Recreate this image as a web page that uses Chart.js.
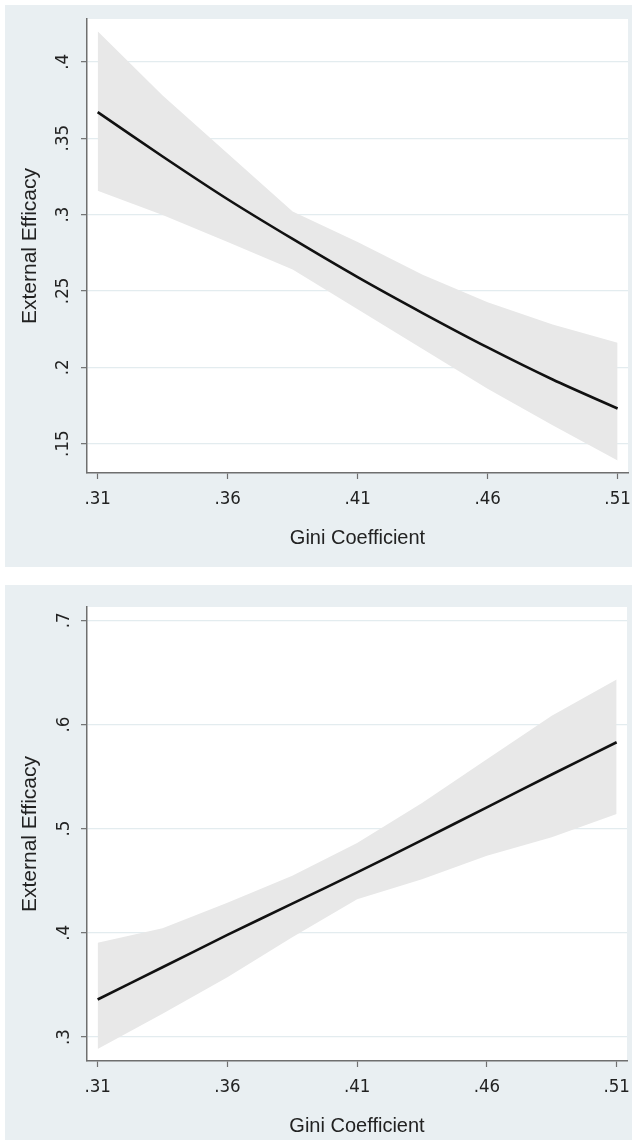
<!DOCTYPE html>
<html>
<head>
<meta charset="utf-8">
<script src="https://cdn.jsdelivr.net/npm/chart.js@4/dist/chart.umd.min.js"></script>
<style>
  html, body { margin: 0; padding: 0; background: #fff; }
  body { width: 636px; height: 1140px; position: relative; overflow: hidden; }
  .panel { position: absolute; left: 5px; width: 627px; background: #e9eff2; }
  #panelTop { top: 5px; height: 562px; }
  #panelBottom { top: 585px; height: 555px; }
</style>
</head>
<body>
<div class="panel" id="panelTop"><canvas id="giniTop"></canvas></div>
<div class="panel" id="panelBottom"><canvas id="giniBottom"></canvas></div>
<script>
// DATA
const giniX = [0.31, 0.335, 0.36, 0.385, 0.41, 0.435, 0.46, 0.485, 0.51];
const xTicks = [0.31, 0.36, 0.41, 0.46, 0.51];
const xTickLabels = ['.31', '.36', '.41', '.46', '.51'];

// top panel
const fitTop = [0.367, 0.338, 0.310, 0.284, 0.259, 0.2355, 0.213, 0.192, 0.173];
const upperTop = [0.420, 0.378, 0.340, 0.302, 0.282, 0.2605, 0.2425, 0.228, 0.216];
const lowerTop = [0.3155, 0.2997, 0.282, 0.264, 0.238, 0.212, 0.186, 0.162, 0.139];
const yTicksTop = [0.15, 0.2, 0.25, 0.3, 0.35, 0.4];
const yTickLabelsTop = ['.15', '.2', '.25', '.3', '.35', '.4'];

// bottom panel
const fitBottom = [0.336, 0.367, 0.398, 0.428, 0.458, 0.489, 0.5205, 0.552, 0.583];
const upperBottom = [0.3904, 0.4045, 0.4288, 0.4549, 0.4863, 0.5247, 0.5666, 0.6083, 0.6432];
const lowerBottom = [0.2885, 0.3224, 0.3575, 0.3959, 0.4323, 0.4515, 0.474, 0.4917, 0.5142];
const yTicksBottom = [0.3, 0.4, 0.5, 0.6, 0.7];
const yTickLabelsBottom = ['.3', '.4', '.5', '.6', '.7'];

const toPoints = (ys) => giniX.map((x, i) => ({ x: x, y: ys[i] }));

const tickFont = { family: "'Liberation Sans Narrow', 'Arial Narrow', 'DejaVu Sans Condensed', sans-serif", size: 18.5 };
const titleFont = { family: "'Liberation Sans Narrow', 'Arial Narrow', 'Liberation Sans', sans-serif", size: 20 };
const yTitleFont = { family: "'Liberation Sans', Arial, sans-serif", size: 21 };

// white plot region
const plotBackground = {
  id: 'plotBackground',
  beforeDraw(chart) {
    const { ctx, chartArea } = chart;
    ctx.save();
    ctx.fillStyle = '#ffffff';
    ctx.fillRect(chartArea.left, chartArea.top, chartArea.right - chartArea.left, chartArea.bottom - chartArea.top);
    ctx.restore();
  }
};

const buildChart = (canvasId, fit, upper, lower, yMin, yMax, yTicks, yLabels, padTop, padRight, xHeight, yPad, xTitlePad) => {
  const ctx = document.getElementById(canvasId).getContext('2d');
  return new Chart(ctx, {
    type: 'line',
    data: {
      datasets: [{
        label: 'upper',
        data: toPoints(upper),
        borderWidth: 0,
        pointRadius: 0,
        backgroundColor: '#e8e8e8',
        fill: '+1',
        tension: 0,
        order: 2
      }, {
        label: 'lower',
        data: toPoints(lower),
        borderWidth: 0,
        pointRadius: 0,
        fill: false,
        tension: 0,
        order: 2
      }, {
        label: 'External Efficacy',
        data: toPoints(fit),
        borderColor: '#111111',
        borderWidth: 2.6,
        pointRadius: 0,
        fill: false,
        tension: 0.3,
        order: 0
      }]
    },
    options: {
      responsive: true,
      maintainAspectRatio: false,
      animation: false,
      layout: {
        padding: { top: padTop, right: padRight, left: 0, bottom: 0 }
      },
      plugins: {
        legend: { display: false },
        tooltip: { enabled: false }
      },
      scales: {
        x: {
          type: 'linear',
          min: 0.3059,
          max: 0.514,
          afterBuildTicks: (scale) => { scale.ticks = xTicks.map(v => ({ value: v })); },
          afterFit: (scale) => {
            scale.height = xHeight;
            scale.paddingLeft = 0;
            scale.paddingRight = 0;
          },
          border: { color: '#6f6f6f', width: 1.5 },
          grid: {
            drawOnChartArea: false,
            drawTicks: true,
            tickLength: 6,
            tickColor: '#6f6f6f',
            tickWidth: 1.2
          },
          ticks: {
            color: '#222',
            font: tickFont,
            padding: 9,
            maxRotation: 0,
            autoSkip: false,
            callback: (v) => xTickLabels[xTicks.indexOf(v)]
          },
          title: {
            display: true,
            text: 'Gini Coefficient',
            color: '#222',
            font: titleFont,
            padding: { top: 0, bottom: xTitlePad }
          }
        },
        y: {
          type: 'linear',
          min: yMin,
          max: yMax,
          afterBuildTicks: (scale) => { scale.ticks = yTicks.map(v => ({ value: v })); },
          afterFit: (scale) => {
            scale.width = 82;
            scale.paddingTop = 0;
            scale.paddingBottom = 0;
          },
          border: { color: '#6f6f6f', width: 1.5 },
          grid: {
            color: '#e3ecef',
            lineWidth: 1.3,
            drawTicks: true,
            tickLength: 6,
            tickColor: '#6f6f6f',
            tickWidth: 1.2
          },
          ticks: {
            color: '#222',
            font: tickFont,
            padding: yPad,
            minRotation: 90,
            maxRotation: 90,
            crossAlign: 'center',
            autoSkip: false,
            callback: (v) => yLabels[yTicks.indexOf(v)]
          },
          title: {
            display: true,
            text: 'External Efficacy',
            color: '#222',
            font: yTitleFont,
            padding: { top: 13, bottom: 0 }
          }
        }
      }
    },
    plugins: [plotBackground]
  });
};

buildChart('giniTop', fitTop, upperTop, lowerTop, 0.1308, 0.428, yTicksTop, yTickLabelsTop, 14, 4, 94, 5, 17);
buildChart('giniBottom', fitBottom, upperBottom, lowerBottom, 0.277, 0.7128, yTicksBottom, yTickLabelsBottom, 22, 5, 79, 8.5, 2);
</script>
</body>
</html>
